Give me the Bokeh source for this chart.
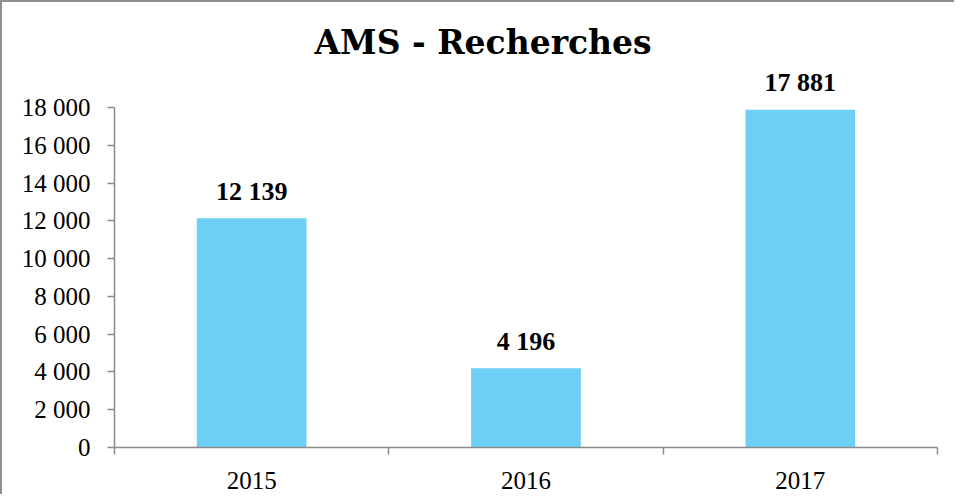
from bokeh.plotting import figure
from bokeh.models import Range1d, FixedTicker, ColumnDataSource
from bokeh.core.properties import value
from bokeh.embed import file_html
from bokeh.resources import INLINE

title_text = "AMS - Recherches"
years = ["2015", "2016", "2017"]
searches = [12139, 4196, 17881]
y_ticks = [0, 2000, 4000, 6000, 8000, 10000, 12000, 14000, 16000, 18000]

def fmt(v):
    return f"{v:,}".replace(",", " ")

FONT = "Liberation Serif"
W, H = 954, 494
frame_left, frame_right = 112, 19
frame_top, frame_bottom = 66, 49
y_max = y_ticks[-1]
frame_h = H - frame_top - frame_bottom
y_end = y_max * frame_h / 340.0

p = figure(width=W, height=H, output_backend="svg", toolbar_location=None,
           x_range=Range1d(0, len(years)), y_range=Range1d(0, y_end),
           min_border_left=frame_left, min_border_right=frame_right,
           min_border_top=frame_top, min_border_bottom=frame_bottom,
           background_fill_color="white", border_fill_color="white")
p.outline_line_color = None
p.xgrid.visible = False
p.ygrid.visible = False
p.styles = {"border-top": "2px solid #8f8f8f", "border-left": "2px solid #8f8f8f"}

p.title.text = title_text
p.title.text_font = "DejaVu Serif"
p.title.text_font_size = "33px"
p.title.text_font_style = "bold"
p.title.text_color = "black"
p.title.align = "left"
p.title.offset = 200
p.title.vertical_align = "bottom"
p.title.standoff = 14

xs = [i + 0.5 for i in range(len(years))]
src = ColumnDataSource(dict(x=xs, top=searches, label=[fmt(v) for v in searches]))
p.vbar(x="x", top="top", width=0.4, bottom=0, source=src,
       fill_color="#6DCFF6", line_color=None)
p.text(x="x", y="top", text="label", source=src, y_offset=-27,
       text_align="center", text_baseline="alphabetic",
       text_font=value(FONT), text_font_size="26px", text_font_style="bold",
       text_color="black")

axis_color = "#8a8a8a"
# y axis
ya = p.yaxis[0]
ya.ticker = FixedTicker(ticks=y_ticks, minor_ticks=[])
ya.bounds = (0, y_max)
ya.major_label_overrides = {t: fmt(t) for t in y_ticks}
ya.axis_line_color = axis_color
ya.axis_line_width = 1.5
ya.major_tick_line_color = axis_color
ya.major_tick_line_width = 1.5
ya.major_tick_out = 7
ya.major_tick_in = 0
ya.minor_tick_line_color = None
ya.major_label_standoff = 17
ya.major_label_text_font = FONT
ya.major_label_text_font_size = "25px"
ya.major_label_text_color = "black"

# x axis
xa = p.xaxis[0]
xa.ticker = FixedTicker(ticks=xs, minor_ticks=list(range(len(years) + 1)))
xa.major_label_overrides = {x: y for x, y in zip(xs, years)}
xa.axis_line_color = axis_color
xa.axis_line_width = 1.5
xa.major_tick_line_color = None
xa.major_tick_out = 0
xa.major_tick_in = 0
xa.minor_tick_line_color = axis_color
xa.minor_tick_line_width = 1.5
xa.minor_tick_out = 7
xa.minor_tick_in = 0
xa.major_label_standoff = 17
xa.major_label_text_font = FONT
xa.major_label_text_font_size = "25px"
xa.major_label_text_color = "black"

open("out.html", "w").write(file_html(p, INLINE))
